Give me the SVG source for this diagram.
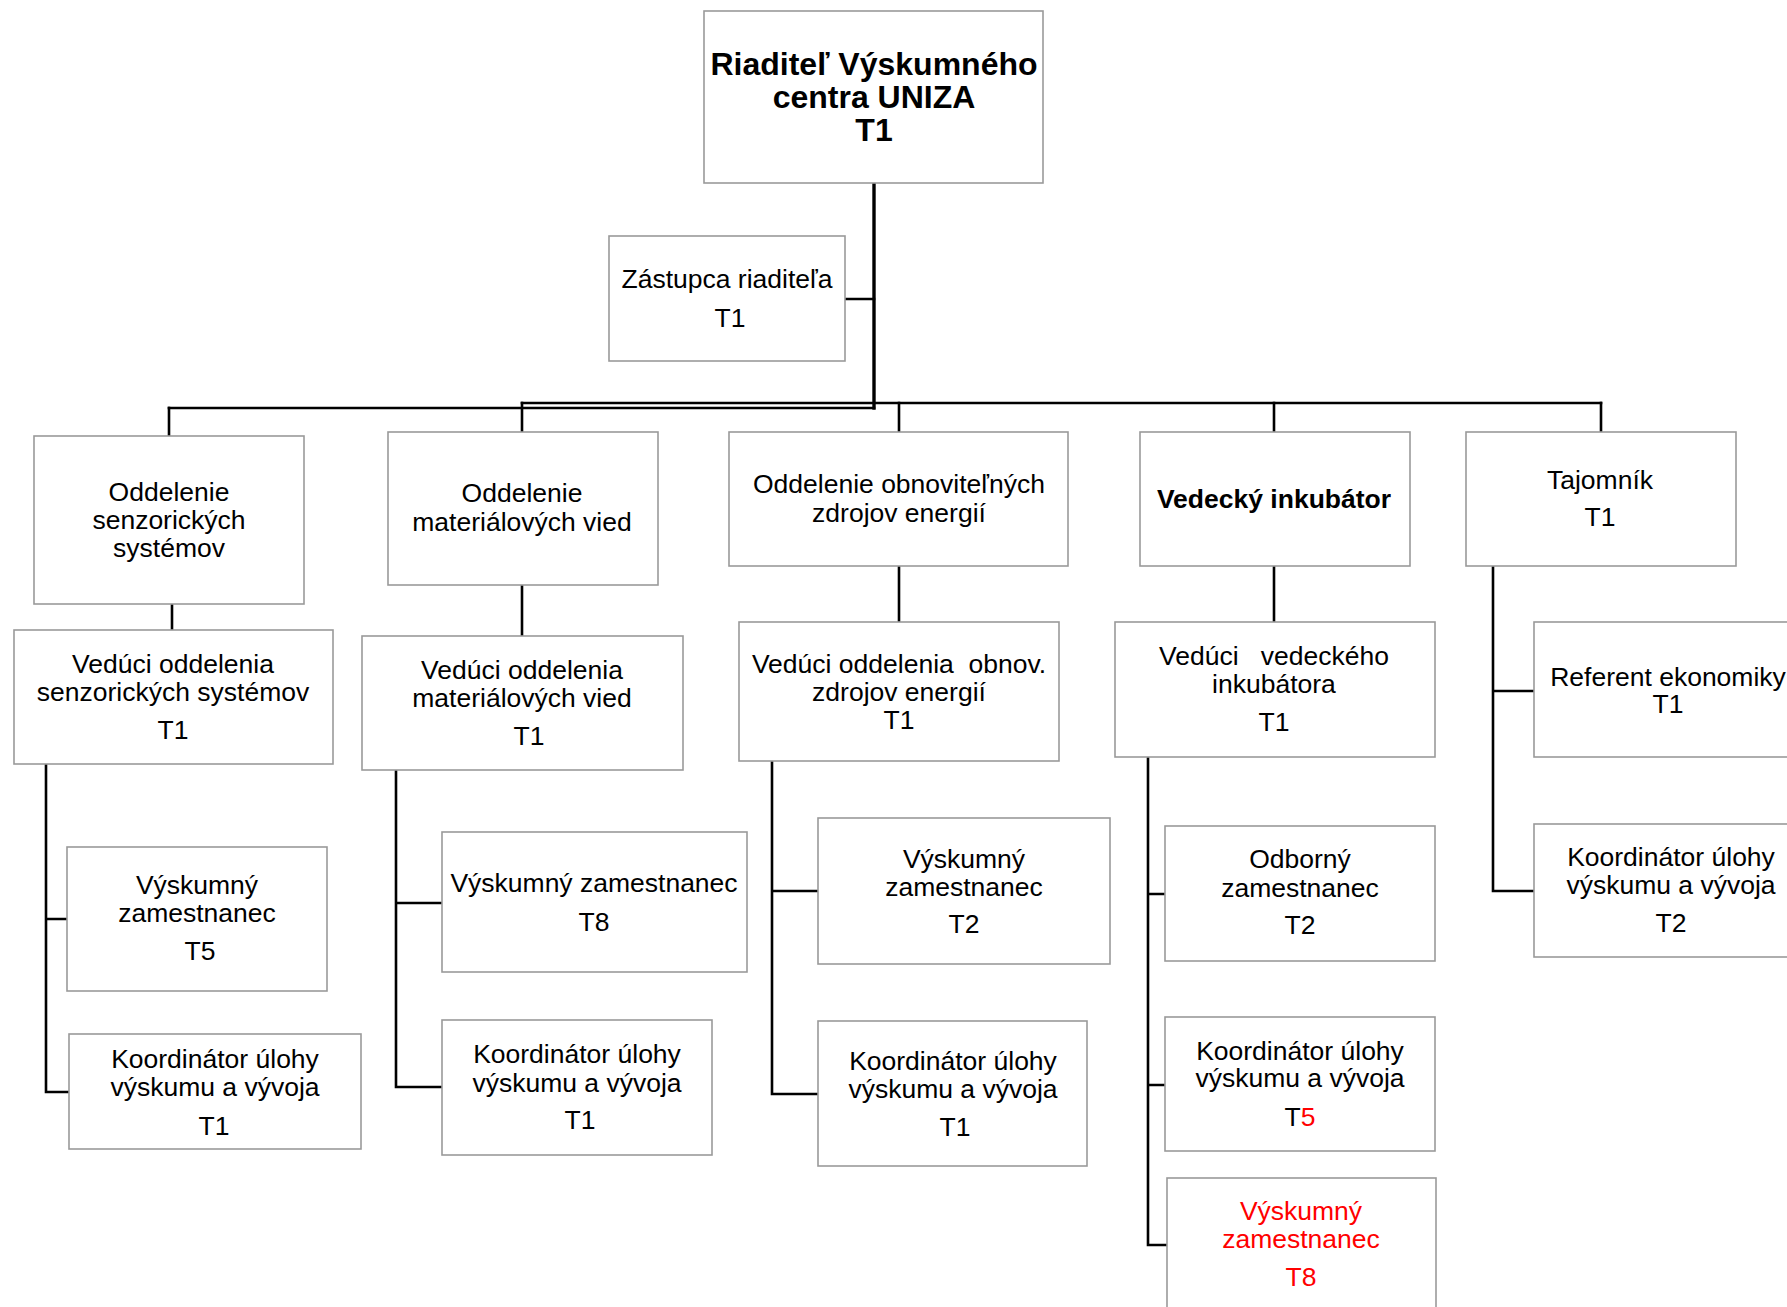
<svg xmlns="http://www.w3.org/2000/svg" width="1787" height="1307" viewBox="0 0 1787 1307">
<style>
.box{fill:#fff;stroke:#9a9a9a;stroke-width:1.6}
.t{font-family:"Liberation Sans",Arial,sans-serif;font-size:26.5px;fill:#000;text-anchor:middle;white-space:pre}
.b{font-weight:bold}
.big{font-size:32px;font-weight:bold}
.red{fill:#ff0000}
.c{fill:none;stroke:#000;stroke-width:2.6;stroke-linecap:square}
.trunk{stroke-width:3.4}
</style>
<rect width="1787" height="1307" fill="#fff"/>
<g id="connectors">
<path class="c trunk" d="M874 183 V408"/>
<path class="c" d="M845 299 H874"/>
<path class="c" d="M522 403 H1601"/>
<path class="c" d="M169 408 H874"/>
<path class="c" d="M169 408 V436"/>
<path class="c" d="M522 403 V432"/>
<path class="c" d="M899 403 V432"/>
<path class="c" d="M1274 403 V432"/>
<path class="c" d="M1601 403 V432"/>
<path class="c" d="M172 604 V630"/>
<path class="c" d="M522 585 V636"/>
<path class="c" d="M899 566 V622"/>
<path class="c" d="M1274 566 V622"/>
<path class="c" d="M1493 566 V891 H1534 M1493 691 H1534"/>
<path class="c" d="M46 764 V1092 H69 M46 919 H67"/>
<path class="c" d="M396 770 V1087 H442 M396 903 H442"/>
<path class="c" d="M772 761 V1094 H818 M772 891 H818"/>
<path class="c" d="M1148 757 V1245 H1167 M1148 894 H1165 M1148 1085 H1165"/>
</g>
<g id="n-director">
<rect class="box" x="704" y="11" width="339" height="172"/>
<text class="t big" x="874" y="75">Riaditeľ Výskumného</text>
<text class="t big" x="874" y="108">centra UNIZA</text>
<text class="t big" x="874" y="141">T1</text>
</g>
<g id="n-deputy">
<rect class="box" x="609" y="236" width="236" height="125"/>
<text class="t" x="727" y="288">Zástupca riaditeľa</text>
<text class="t" x="730" y="327">T1</text>
</g>
<g id="n-dept-senz">
<rect class="box" x="34" y="436" width="270" height="168"/>
<text class="t" x="169" y="501">Oddelenie</text>
<text class="t" x="169" y="529">senzorických</text>
<text class="t" x="169" y="557">systémov</text>
</g>
<g id="n-dept-mat">
<rect class="box" x="388" y="432" width="270" height="153"/>
<text class="t" x="522" y="502">Oddelenie</text>
<text class="t" x="522" y="531">materiálových vied</text>
</g>
<g id="n-dept-obnov">
<rect class="box" x="729" y="432" width="339" height="134"/>
<text class="t" x="899" y="493">Oddelenie obnoviteľných</text>
<text class="t" x="899" y="522">zdrojov energií</text>
</g>
<g id="n-inkubator">
<rect class="box" x="1140" y="432" width="270" height="134"/>
<text class="t b" x="1274" y="508">Vedecký inkubátor</text>
</g>
<g id="n-tajomnik">
<rect class="box" x="1466" y="432" width="270" height="134"/>
<text class="t" x="1600" y="489">Tajomník</text>
<text class="t" x="1600" y="526">T1</text>
</g>
<g id="n-head-senz">
<rect class="box" x="14" y="630" width="319" height="134"/>
<text class="t" x="173" y="673">Vedúci oddelenia</text>
<text class="t" x="173" y="701">senzorických systémov</text>
<text class="t" x="173" y="739">T1</text>
</g>
<g id="n-head-mat">
<rect class="box" x="362" y="636" width="321" height="134"/>
<text class="t" x="522" y="679">Vedúci oddelenia</text>
<text class="t" x="522" y="707">materiálových vied</text>
<text class="t" x="529" y="745">T1</text>
</g>
<g id="n-head-obnov">
<rect class="box" x="739" y="622" width="320" height="139"/>
<text class="t" x="899" y="673">Vedúci oddelenia  obnov.</text>
<text class="t" x="899" y="701">zdrojov energií</text>
<text class="t" x="899" y="729">T1</text>
</g>
<g id="n-head-ink">
<rect class="box" x="1115" y="622" width="320" height="135"/>
<text class="t" x="1274" y="665">Vedúci   vedeckého</text>
<text class="t" x="1274" y="693">inkubátora</text>
<text class="t" x="1274" y="731">T1</text>
</g>
<g id="n-referent">
<rect class="box" x="1534" y="622" width="268" height="135"/>
<text class="t" x="1668" y="686">Referent ekonomiky</text>
<text class="t" x="1668" y="713">T1</text>
</g>
<g id="n-koord-taj">
<rect class="box" x="1534" y="824" width="274" height="133"/>
<text class="t" x="1671" y="866">Koordinátor úlohy</text>
<text class="t" x="1671" y="894">výskumu a vývoja</text>
<text class="t" x="1671" y="932">T2</text>
</g>
<g id="n-vysk-senz">
<rect class="box" x="67" y="847" width="260" height="144"/>
<text class="t" x="197" y="894">Výskumný</text>
<text class="t" x="197" y="922">zamestnanec</text>
<text class="t" x="200" y="960">T5</text>
</g>
<g id="n-koord-senz">
<rect class="box" x="69" y="1034" width="292" height="115"/>
<text class="t" x="215" y="1068">Koordinátor úlohy</text>
<text class="t" x="215" y="1096">výskumu a vývoja</text>
<text class="t" x="214" y="1135">T1</text>
</g>
<g id="n-vysk-mat">
<rect class="box" x="442" y="832" width="305" height="140"/>
<text class="t" x="594" y="892">Výskumný zamestnanec</text>
<text class="t" x="594" y="931">T8</text>
</g>
<g id="n-koord-mat">
<rect class="box" x="442" y="1020" width="270" height="135"/>
<text class="t" x="577" y="1063">Koordinátor úlohy</text>
<text class="t" x="577" y="1092">výskumu a vývoja</text>
<text class="t" x="580" y="1129">T1</text>
</g>
<g id="n-vysk-obnov">
<rect class="box" x="818" y="818" width="292" height="146"/>
<text class="t" x="964" y="868">Výskumný</text>
<text class="t" x="964" y="896">zamestnanec</text>
<text class="t" x="964" y="933">T2</text>
</g>
<g id="n-koord-obnov">
<rect class="box" x="818" y="1021" width="269" height="145"/>
<text class="t" x="953" y="1070">Koordinátor úlohy</text>
<text class="t" x="953" y="1098">výskumu a vývoja</text>
<text class="t" x="955" y="1136">T1</text>
</g>
<g id="n-odborny">
<rect class="box" x="1165" y="826" width="270" height="135"/>
<text class="t" x="1300" y="868">Odborný</text>
<text class="t" x="1300" y="897">zamestnanec</text>
<text class="t" x="1300" y="934">T2</text>
</g>
<g id="n-koord-ink">
<rect class="box" x="1165" y="1017" width="270" height="134"/>
<text class="t" x="1300" y="1060">Koordinátor úlohy</text>
<text class="t" x="1300" y="1087">výskumu a vývoja</text>
<text class="t" x="1300" y="1126">T<tspan class="red">5</tspan></text>
</g>
<g id="n-vysk-ink">
<rect class="box" x="1167" y="1178" width="269" height="140"/>
<text class="t red" x="1301" y="1220">Výskumný</text>
<text class="t red" x="1301" y="1248">zamestnanec</text>
<text class="t red" x="1301" y="1286">T8</text>
</g>
</svg>
